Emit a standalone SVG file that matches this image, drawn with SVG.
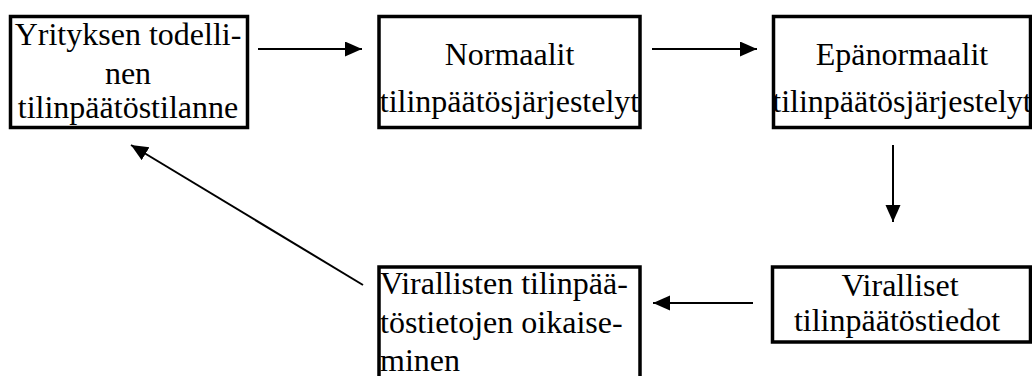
<svg xmlns="http://www.w3.org/2000/svg" width="1032" height="376" viewBox="0 0 1032 376">
<defs>
<style>
.box{fill:#fff;stroke:#000;stroke-width:3.5}
.t{font-family:'Liberation Serif','Times New Roman',Tinos,'DejaVu Serif',serif;font-size:32px;fill:#000}
.m{text-anchor:middle}
.c{stroke:#000;stroke-width:2;fill:none;marker-end:url(#ah)}
</style>
<marker id="ah" markerUnits="userSpaceOnUse" markerWidth="18" markerHeight="16" refX="17" refY="7.5" orient="auto">
<path d="M0,0 L17,7.5 L0,15 Z" fill="#000"/>
</marker>
</defs>
<rect width="1032" height="376" fill="#fff"/>
<g id="connectors">
<line class="c" x1="258" y1="49" x2="362" y2="49"/>
<line class="c" x1="652" y1="49" x2="757" y2="49"/>
<line class="c" x1="893" y1="145" x2="893" y2="222"/>
<line class="c" x1="753" y1="303" x2="653" y2="303"/>
<line class="c" x1="363" y1="285" x2="131" y2="145"/>
</g>
<g id="n1">
<rect class="box" x="10.5" y="16.5" width="237" height="111"/>
<text class="t m" x="128" y="45">Yrityksen todelli-</text>
<text class="t m" x="128" y="84">nen</text>
<text class="t m" x="128" y="118">tilinpäätöstilanne</text>
</g>
<g id="n2">
<rect class="box" x="379" y="16.5" width="261" height="111"/>
<text class="t m" x="509.5" y="65">Normaalit</text>
<text class="t m" x="509.5" y="112">tilinpäätösjärjestelyt</text>
</g>
<g id="n3">
<rect class="box" x="773.5" y="16.5" width="257" height="111"/>
<text class="t m" x="902" y="65">Epänormaalit</text>
<text class="t m" x="902" y="112">tilinpäätösjärjestelyt</text>
</g>
<g id="n4">
<rect class="box" x="772.5" y="267" width="258" height="75"/>
<text class="t m" x="900" y="296">Viralliset</text>
<text class="t m" x="897" y="331">tilinpäätöstiedot</text>
</g>
<g id="n5">
<rect class="box" x="379" y="267" width="261" height="120"/>
<text class="t" x="380" y="294">Virallisten tilinpää-</text>
<text class="t" x="380" y="333">töstietojen oikaise-</text>
<text class="t" x="380" y="371">minen</text>
</g>
</svg>
